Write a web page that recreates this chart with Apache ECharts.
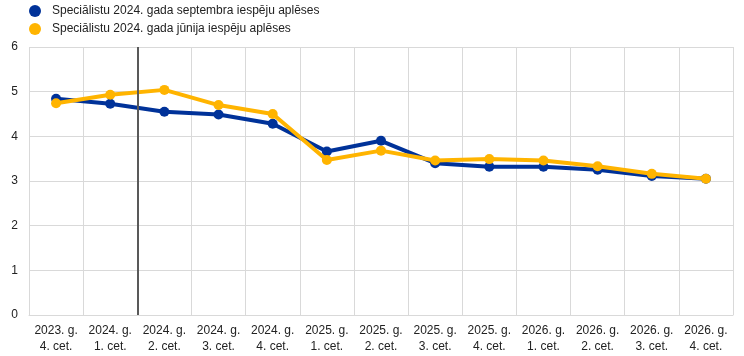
<!DOCTYPE html>
<html>
<head>
<meta charset="utf-8">
<script src="https://cdn.jsdelivr.net/npm/echarts@6/dist/echarts.min.js"></script>
<style>html,body{margin:0;padding:0;background:#fff}#c{width:744px;height:356px}</style>
</head>
<body>
<div id="c"></div>
<script>
var categories = ["2023. g.\n4. cet.","2024. g.\n1. cet.","2024. g.\n2. cet.","2024. g.\n3. cet.","2024. g.\n4. cet.","2025. g.\n1. cet.","2025. g.\n2. cet.","2025. g.\n3. cet.","2025. g.\n4. cet.","2026. g.\n1. cet.","2026. g.\n2. cet.","2026. g.\n3. cet.","2026. g.\n4. cet."];
var septName = "Speciālistu 2024. gada septembra iespēju aplēses";
var juneName = "Speciālistu 2024. gada jūnija iespēju aplēses";
var septValues = [4.84, 4.73, 4.55, 4.49, 4.28, 3.66, 3.90, 3.40, 3.32, 3.32, 3.25, 3.11, 3.05];
var juneValues = [4.74, 4.93, 5.04, 4.70, 4.50, 3.47, 3.68, 3.46, 3.49, 3.46, 3.33, 3.16, 3.05];
var yTicks = [0, 1, 2, 3, 4, 5, 6];
var markerPosition = 2; // boundary between 2024 Q1 and Q2

var chart = echarts.init(document.getElementById('c'), null, {renderer: 'canvas'});
chart.setOption({
  animation: false,
  textStyle: {fontFamily: 'Liberation Sans, Arial, sans-serif'},
  legend: {
    orient: 'vertical', left: 29, top: 5, padding: 0, itemGap: 6, itemWidth: 24, itemHeight: 12,
    icon: 'circle',
    textStyle: {fontSize: 12, color: '#222', fontFamily: 'Liberation Sans, Arial, sans-serif'},
    data: [septName, juneName]
  },
  grid: {left: 29, right: 11, top: 47, bottom: 41, containLabel: false},
  xAxis: [{
    type: 'category', data: categories, boundaryGap: true,
    axisLine: {show: true, lineStyle: {color: '#d9d9d9', width: 1}},
    axisTick: {show: false},
    splitLine: {show: true, lineStyle: {color: '#d9d9d9', width: 1}},
    axisLabel: {fontSize: 12, color: '#222', interval: 0, lineHeight: 16, margin: 8, fontFamily: 'Liberation Sans, Arial, sans-serif'}
  }, {
    type: 'value', min: 0, max: categories.length, show: false
  }],
  yAxis: {
    type: 'value', min: yTicks[0], max: yTicks[yTicks.length - 1], interval: 1,
    axisLine: {show: false}, axisTick: {show: false},
    splitLine: {show: true, lineStyle: {color: '#d9d9d9', width: 1}},
    axisLabel: {fontSize: 12, color: '#222', margin: 11, fontFamily: 'Liberation Sans, Arial, sans-serif'}
  },
  series: [{
    name: septName, type: 'line', data: septValues,
    symbol: 'circle', symbolSize: 10,
    lineStyle: {color: '#003299', width: 4},
    itemStyle: {color: '#003299'}, z: 3
  }, {
    name: juneName, type: 'line', data: juneValues,
    symbol: 'circle', symbolSize: 10,
    lineStyle: {color: '#FFB400', width: 4},
    itemStyle: {color: '#FFB400'}, z: 4
  }, {
    type: 'line', xAxisIndex: 1, data: [], silent: true,
    markLine: {
      silent: true, symbol: ['none', 'none'], label: {show: false},
      lineStyle: {color: '#595959', width: 2, type: 'solid'},
      data: [{xAxis: markerPosition}]
    }
  }]
});
</script>
</body>
</html>
